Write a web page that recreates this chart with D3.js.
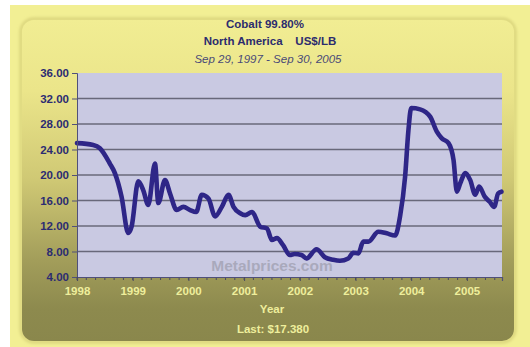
<!DOCTYPE html>
<html>
<head>
<meta charset="utf-8">
<script src="https://cdn.jsdelivr.net/npm/d3@7"></script>
<style>
  html, body { margin: 0; padding: 0; background: #ffffff; }
  svg { display: block; }
</style>
</head>
<body>
<svg id="chart" width="530" height="347"></svg>
<script>
// Cobalt 99.80%, North America, US$/LB — monthly-ish price history
const years = [
  1998.00, 1998.29, 1998.41, 1998.59, 1998.68, 1998.80, 1998.92, 1998.98,
  1999.10, 1999.19, 1999.28, 1999.40, 1999.46, 1999.58, 1999.67, 1999.79,
  1999.91, 2000.03, 2000.14, 2000.24, 2000.36, 2000.48, 2000.60, 2000.72,
  2000.81, 2000.93, 2001.02, 2001.14, 2001.29, 2001.41, 2001.50, 2001.59,
  2001.70, 2001.82, 2001.91, 2002.03, 2002.12, 2002.30, 2002.45, 2002.60,
  2002.72, 2002.87, 2002.96, 2003.05, 2003.14, 2003.23, 2003.41, 2003.56,
  2003.71, 2003.80, 2003.89, 2003.95, 2004.00, 2004.16, 2004.34, 2004.46,
  2004.55, 2004.67, 2004.76, 2004.82, 2004.88, 2004.97, 2005.06, 2005.15,
  2005.22, 2005.32, 2005.41, 2005.49, 2005.56, 2005.62
];
const prices = [
  25.0, 24.7, 24.2, 21.8, 20.3, 16.6, 10.9, 11.9,
  19.0, 17.6, 15.3, 21.8, 15.6, 19.2, 17.1, 14.5,
  15.0, 14.5, 14.2, 16.9, 16.3, 13.5, 15.0, 16.9,
  15.0, 14.0, 13.7, 14.2, 11.9, 11.6, 9.8, 10.1,
  9.0, 7.45, 7.6, 7.45, 6.9, 8.35, 7.1, 6.7,
  6.55, 6.9, 7.8, 7.7, 9.55, 9.55, 11.1, 10.85,
  10.5, 13.5, 19.7, 27.0, 30.5, 30.3, 29.15, 26.8,
  25.75, 25.0, 22.35, 17.4, 18.7, 20.3, 19.2, 16.9,
  18.2, 16.6, 15.8, 15.0, 17.1, 17.38
];
const yearLabels = [1998, 1999, 2000, 2001, 2002, 2003, 2004, 2005];
const priceTicks = [4, 8, 12, 16, 20, 24, 28, 32, 36];
const titleLines = ["Cobalt 99.80%", "North America    US$/LB"];
const dateRange = "Sep 29, 1997 - Sep 30, 2005";
const lastPrice = 17.38;

const svg = d3.select("#chart");
const W = 530, H = 347;
const plot = { left: 77, right: 502, top: 73, bottom: 277 };

const defs = svg.append("defs");
const panelGrad = defs.append("linearGradient")
  .attr("id", "panelGrad").attr("x1", 0).attr("y1", 0).attr("x2", 0).attr("y2", 1);
[["0%", "#f1ed93"], ["22%", "#ebe58a"], ["50%", "#cfc874"], ["75%", "#a29d5a"], ["90%", "#8d8a4e"], ["100%", "#8a874c"]]
  .forEach(([o, c]) => panelGrad.append("stop").attr("offset", o).attr("stop-color", c));

const blur = defs.append("filter").attr("id", "soft").attr("x", "-5%").attr("y", "-5%").attr("width", "110%").attr("height", "110%");
blur.append("feGaussianBlur").attr("stdDeviation", 1.6);
const lineSoft = defs.append("filter").attr("id", "lineSoft");
lineSoft.append("feGaussianBlur").attr("stdDeviation", 0.4);

// outer frame and rounded inner panel
svg.append("rect").attr("x", 10).attr("y", 5).attr("width", W - 10).attr("height", H - 5)
  .attr("fill", "#f2ef94");
svg.append("rect").attr("x", 21).attr("y", 19).attr("width", 494).attr("height", 323)
  .attr("rx", 13).attr("fill", "none").attr("stroke", "#d8d27a").attr("stroke-width", 3)
  .attr("filter", "url(#soft)");
svg.append("rect").attr("x", 22).attr("y", 20).attr("width", 492).attr("height", 321)
  .attr("rx", 12).attr("fill", "url(#panelGrad)");

const x = d3.scaleLinear().domain([1998, 1998 + (plot.right - plot.left) / 55.7])
  .range([plot.left, plot.right]);
const y = d3.scaleLinear().domain([4, 36]).range([plot.bottom, plot.top]);

// plot background
svg.append("rect").attr("x", plot.left).attr("y", plot.top)
  .attr("width", plot.right - plot.left).attr("height", plot.bottom - plot.top)
  .attr("fill", "#c9c9e2");

// horizontal grid lines
svg.append("g").selectAll("line").data(priceTicks.filter(v => v > 4 && v < 36)).join("line")
  .attr("x1", plot.left).attr("x2", plot.right)
  .attr("y1", d => y(d)).attr("y2", d => y(d))
  .attr("stroke", "#68687a").attr("stroke-width", 1.7);

// watermark
svg.append("text").attr("x", 272).attr("y", 271)
  .attr("text-anchor", "middle")
  .attr("font-family", "Arial, 'Liberation Sans', sans-serif")
  .attr("font-weight", "bold").attr("font-size", 15.5)
  .attr("fill", "#a9a9bc").text("Metalprices.com");

// price line
const line = d3.line().x((d, i) => x(years[i])).y(d => y(d)).curve(d3.curveMonotoneX);
svg.append("path").datum(prices)
  .attr("d", line).attr("fill", "none")
  .attr("stroke", "#2e2587").attr("stroke-width", 4.6)
  .attr("stroke-linejoin", "round").attr("stroke-linecap", "round")
  .attr("filter", "url(#lineSoft)");

// y axis
const yAxis = d3.axisLeft(y).tickValues(priceTicks).tickFormat(d3.format(".2f")).tickSize(5).tickPadding(3);
const gy = svg.append("g").attr("transform", `translate(${plot.left},0)`).call(yAxis);
gy.select(".domain").attr("stroke", "#50507a").attr("stroke-width", 1);
gy.selectAll(".tick line").attr("stroke", "#50507a");
gy.selectAll("text").attr("fill", "#2c2c72")
  .attr("font-family", "Arial, 'Liberation Sans', sans-serif")
  .attr("font-weight", "bold").attr("font-size", 11.5);

// x axis with minor ticks every two months
const minor = d3.range(1998, x.domain()[1] + 1e-6, 1 / 6);
svg.append("g").selectAll("line").data(minor).join("line")
  .attr("x1", d => x(d)).attr("x2", d => x(d))
  .attr("y1", plot.bottom).attr("y2", plot.bottom + 3)
  .attr("stroke", "#4a4a60").attr("stroke-width", 1);
const xAxis = d3.axisBottom(x).tickValues(yearLabels).tickFormat(d3.format("d")).tickSize(4).tickPadding(6);
const gx = svg.append("g").attr("transform", `translate(0,${plot.bottom})`).call(xAxis);
gx.select(".domain").attr("stroke", "#50507a").attr("stroke-width", 1.2);
gx.selectAll(".tick line").attr("stroke", "#4a4a60");
gx.selectAll("text").attr("fill", "#eeee9c")
  .attr("font-family", "Arial, 'Liberation Sans', sans-serif")
  .attr("font-weight", "bold").attr("font-size", 11.5);

// titles
const tfont = "Arial, 'Liberation Sans', sans-serif";
svg.append("text").attr("x", 265).attr("y", 28).attr("text-anchor", "middle")
  .attr("font-family", tfont).attr("font-weight", "bold").attr("font-size", 11.5)
  .attr("fill", "#2c2c6e").text(titleLines[0]);
svg.append("text").attr("x", 270).attr("y", 45).attr("text-anchor", "middle")
  .attr("font-family", tfont).attr("font-weight", "bold").attr("font-size", 11.5)
  .attr("fill", "#2c2c6e").attr("xml:space", "preserve").style("white-space", "pre")
  .text(titleLines[1]);
svg.append("text").attr("x", 268).attr("y", 63).attr("text-anchor", "middle")
  .attr("font-family", tfont).attr("font-style", "italic").attr("font-size", 11.5)
  .attr("fill", "#4a4a78").text(dateRange);

// axis title and last value
svg.append("text").attr("x", 272).attr("y", 313).attr("text-anchor", "middle")
  .attr("font-family", tfont).attr("font-weight", "bold").attr("font-size", 11.5)
  .attr("fill", "#eeee9c").text("Year");
svg.append("text").attr("x", 273).attr("y", 333).attr("text-anchor", "middle")
  .attr("font-family", tfont).attr("font-weight", "bold").attr("font-size", 11.5)
  .attr("fill", "#eeee9c").text("Last: $" + lastPrice.toFixed(3));
</script>
</body>
</html>
